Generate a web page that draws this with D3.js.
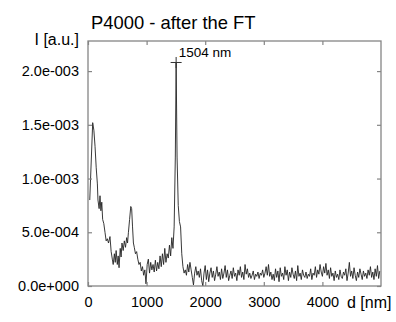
<!DOCTYPE html>
<html><head><meta charset="utf-8">
<script src="https://cdnjs.cloudflare.com/ajax/libs/d3/7.8.5/d3.min.js"></script>
<style>body{margin:0;background:#fff}svg{display:block}text{font-family:"Liberation Sans",Arial,sans-serif;fill:#000}</style>
</head><body><svg id="c" width="396" height="322"></svg>
<script>
// distance d [nm]
const dValues = [30,80,100,120,140,160,170,190,205,220,235,250,270,290,310,330,350,375,395,415,430,450,465,480,500,515,530,550,565,580,600,620,640,660,675,690,710,730,745,760,775,790,810,830,850,870,890,910,930,950,970,990,
1010,1030,1050,1070,1090,1110,1130,1150,1170,1190,1210,1230,1250,1270,1290,1310,1330,1350,1370,1390,1410,1430,1450,1470,1490,1504,1520,1540,1560,1580,1600,1620,1640,1660,1680,1700,1720,1740,1760,1780,1800,1820,1840,1860,1880,1900,1920,1940,1960,1980,
2000,2020,2040,2060,2080,2100,2120,2140,2160,2180,2200,2220,2240,2260,2280,2300,2320,2340,2360,2380,2400,2420,2440,2460,2480,2500,2520,2540,2560,2580,2600,2620,2640,2660,2680,2700,2720,2740,2760,2780,2800,2820,2840,2860,2880,2900,2920,2940,2960,2980,
3000,3020,3040,3060,3080,3100,3120,3140,3160,3180,3200,3220,3240,3260,3280,3300,3320,3340,3360,3380,3400,3420,3440,3460,3480,3500,3520,3540,3560,3580,3600,3620,3640,3660,3680,3700,3720,3740,3760,3780,3800,3820,3840,3860,3880,3900,3920,3940,3960,3980,
4000,4020,4040,4060,4080,4100,4120,4140,4160,4180,4200,4220,4240,4260,4280,4300,4320,4340,4360,4380,4400,4420,4440,4460,4480,4500,4520,4540,4560,4580,4600,4620,4640,4660,4680,4700,4720,4740,4760,4780,4800,4820,4840,4860,4880,4900,4920,4940,4960,4980];
// intensity I [1e-3 a.u.]
const iValues = [0.80,1.52,1.45,1.30,1.10,0.95,0.80,0.72,0.84,0.70,0.78,0.62,0.58,0.50,0.42,0.44,0.40,0.46,0.32,0.25,0.20,0.30,0.22,0.33,0.20,0.28,0.17,0.35,0.27,0.40,0.33,0.42,0.36,0.45,0.40,0.50,0.62,0.74,0.72,0.55,0.40,0.36,0.30,0.32,0.25,0.20,0.22,0.14,0.18,0.10,0.15,0.02,
0.20,0.25,0.12,0.22,0.15,0.20,0.13,0.24,0.14,0.22,0.16,0.28,0.18,0.30,0.20,0.35,0.22,0.30,0.26,0.38,0.28,0.45,0.35,0.55,1.20,2.08,1.20,0.75,0.60,0.55,0.30,0.18,0.12,0.15,0.10,0.20,0.13,0.22,0.15,0.08,0.01,0.12,0.18,0.10,0.14,0.08,0.16,0.05,0.00,0.12,
0.19,0.06,0.15,0.04,0.12,0.17,0.08,0.14,0.05,0.11,0.18,0.09,0.13,0.06,0.16,0.07,0.12,0.19,0.08,0.15,0.05,0.10,0.14,0.07,0.17,0.09,0.12,0.05,0.15,0.10,0.18,0.08,0.13,0.06,0.20,0.11,0.16,0.08,0.12,0.07,0.10,0.14,0.06,0.11,0.09,0.13,0.07,0.12,0.10,0.15,
0.08,0.12,0.18,0.10,0.20,0.09,0.13,0.06,0.11,0.05,0.16,0.08,0.14,0.04,0.17,0.09,0.12,0.06,0.18,0.10,0.15,0.05,0.13,0.08,0.17,0.11,0.07,0.14,0.05,0.19,0.09,0.12,0.06,0.15,0.10,0.08,0.13,0.07,0.11,0.09,0.16,0.06,0.12,0.10,0.18,0.08,0.15,0.11,0.20,0.13,
0.09,0.18,0.12,0.21,0.10,0.15,0.07,0.17,0.09,0.12,0.05,0.14,0.08,0.11,0.06,0.15,0.09,0.07,0.13,0.10,0.16,0.05,0.12,0.22,0.09,0.14,0.07,0.17,0.10,0.05,0.13,0.08,0.16,0.11,0.06,0.14,0.09,0.12,0.07,0.15,0.10,0.18,0.08,0.13,0.06,0.16,0.09,0.19,0.07,0.14];
const xTicks = [0,1000,2000,3000,4000];
const xTickLabels = ["0","1000","2000","3000","4000"];
const yTicks = [0,0.5,1.0,1.5,2.0];
const yTickLabels = ["0.0e+000","5.0e-004","1.0e-003","1.5e-003","2.0e-003"];
const peakD = 1504, peakI = 2.08, peakLabel = "1504 nm";

const svg = d3.select("#c");
const L=88, R=381, T=41, B=286;
const x = d3.scaleLinear().domain([0,5000]).range([L,R]);
const y = d3.scaleLinear().domain([0,2.28]).range([B,T]);
const frame="#858585";

// data line
const pts = dValues.map((d,i)=>[d,iValues[i]]);
svg.append("path").attr("d", d3.line().x(p=>x(p[0])).y(p=>y(p[1]))(pts))
  .attr("fill","none").attr("stroke","#222").attr("stroke-width",0.9);

// frame
svg.append("rect").attr("x",L).attr("y",T).attr("width",R-L).attr("height",B-T)
  .attr("fill","none").attr("stroke",frame).attr("stroke-width",1.3);

// axes with inward ticks
const ax = (g)=>{g.select(".domain").remove(); g.selectAll("line").attr("stroke",frame).attr("stroke-width",1.2);};
const lab = (g)=>g.selectAll("text").attr("font-size",14.5).attr("font-family",'"Liberation Sans",Arial,sans-serif').attr("fill","#000");
svg.append("g").attr("transform",`translate(${L},0)`).call(d3.axisLeft(y).tickValues(yTicks).tickSize(-4).tickFormat((d,i)=>yTickLabels[i]).tickPadding(9))
  .call(ax).call(lab);
svg.append("g").attr("transform",`translate(${R},0)`).call(d3.axisRight(y).tickValues(yTicks).tickSize(-4).tickFormat(""))
  .call(ax);
svg.append("g").attr("transform",`translate(0,${T})`).call(d3.axisTop(x).tickValues(xTicks).tickSize(-4).tickFormat(""))
  .call(ax);
svg.append("g").attr("transform",`translate(0,${B})`).call(d3.axisBottom(x).tickValues(xTicks).tickSize(-4).tickFormat((d,i)=>xTickLabels[i]).tickPadding(11))
  .call(ax).call(lab);

// peak marker
const px=x(peakD), py=y(peakI);
svg.append("line").attr("x1",px-5.5).attr("x2",px+5.5).attr("y1",py).attr("y2",py).attr("stroke","#333");
svg.append("line").attr("x1",px).attr("x2",px).attr("y1",py-5.5).attr("y2",py+5.5).attr("stroke","#333");
svg.append("text").attr("x",px+2.5).attr("y",py-5).attr("font-size",13.5).text(peakLabel);

// titles
svg.append("text").attr("x",91).attr("y",28.5).attr("font-size",18.4).text("P4000 - after the FT");
svg.append("text").attr("x",79).attr("y",45).attr("text-anchor","end").attr("font-size",16).text("I [a.u.]");
svg.append("text").attr("x",347).attr("y",308).attr("font-size",16).text("d [nm]");
</script></body></html>
